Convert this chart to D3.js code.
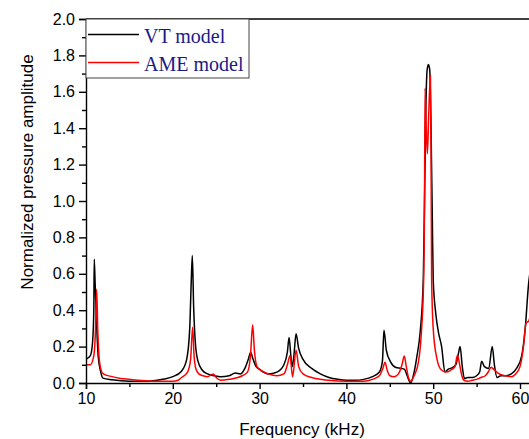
<!DOCTYPE html>
<meta charset="utf-8">
<style>
  body { margin: 0; background: #fff; }
  svg { display: block; }
</style>
<body>
<div id="chart"></div>
<script src="https://cdn.jsdelivr.net/npm/d3@7"></script>
<script>
// frequency (kHz) / normalized amplitude
var vtFreq = [10, 10.5, 10.75, 10.9, 10.95, 11.05, 11.2, 11.4, 11.7, 11.96, 13, 15, 17, 18, 19, 20, 21, 21.6, 21.95, 22.12, 22.25, 22.4, 22.6, 22.9, 23.4, 24, 24.8, 25.5, 26.5, 27.2, 27.8, 28.3, 28.7, 28.97, 29.25, 29.6, 30, 31, 32, 32.8, 33.2, 33.4, 33.6, 33.75, 33.95, 34.2, 34.5, 35, 36, 37, 38, 39, 40, 41, 42, 43, 43.8, 44.15, 44.33, 44.6, 45.1, 45.7, 46.3, 46.7, 47.0, 47.4, 47.8, 48.1, 48.5, 48.86, 49.0, 49.15, 49.3, 49.45, 49.6, 49.75, 49.9, 50.0, 50.3, 50.6, 50.97, 51.35, 51.7, 52.2, 52.6, 52.9, 53.1, 53.35, 53.6, 54, 54.5, 55, 55.35, 55.58, 55.9, 56.4, 56.8, 57.05, 57.35, 57.8, 58.3, 59, 59.6, 60.2, 60.6, 61.0, 61.3];
var vtAmp  = [0.13, 0.15, 0.22, 0.4, 0.68, 0.55, 0.35, 0.15, 0.06, 0.027, 0.018, 0.01, 0.01, 0.014, 0.022, 0.035, 0.065, 0.13, 0.3, 0.55, 0.70, 0.42, 0.22, 0.12, 0.07, 0.05, 0.04, 0.035, 0.04, 0.055, 0.05, 0.08, 0.13, 0.167, 0.13, 0.09, 0.075, 0.05, 0.06, 0.1, 0.17, 0.25, 0.15, 0.09, 0.15, 0.27, 0.19, 0.13, 0.08, 0.05, 0.03, 0.02, 0.015, 0.015, 0.02, 0.035, 0.06, 0.12, 0.29, 0.18, 0.115, 0.085, 0.08, 0.075, 0.04, 0.0, 0.06, 0.14, 0.28, 0.57, 1.0, 1.5, 1.72, 1.75, 1.72, 1.4, 0.9, 0.57, 0.38, 0.28, 0.2, 0.06, 0.075, 0.085, 0.1, 0.16, 0.2, 0.09, 0.025, 0.03, 0.03, 0.04, 0.06, 0.12, 0.09, 0.08, 0.2, 0.1, 0.03, 0.04, 0.04, 0.05, 0.08, 0.15, 0.3, 0.55, 0.65];

var ameFreq = [10, 10.5, 10.9, 11.1, 11.23, 11.35, 11.55, 11.8, 12, 13, 14, 15, 16, 17, 18, 19, 20, 20.6, 21, 21.7, 22.05, 22.29, 22.45, 22.65, 23, 23.5, 24, 24.65, 25.0, 25.5, 26.5, 27.5, 28, 28.6, 28.95, 29.2, 29.4, 29.7, 30, 31, 32, 32.8, 33.2, 33.5, 33.8, 34.2, 34.5, 35, 36, 37, 38, 40, 42, 43, 43.8, 44.2, 44.45, 44.7, 45, 45.5, 46.0, 46.4, 46.67, 46.9, 47.15, 47.4, 47.8, 48.28, 48.6, 48.9, 49.0, 49.06, 49.2, 49.33, 49.5, 49.68, 49.75, 49.82, 50.0, 50.4, 50.97, 51.5, 52, 52.5, 52.8, 53.05, 53.3, 53.55, 54, 54.5, 55, 55.5, 56, 56.4, 56.66, 57.1, 57.6, 58.3, 59, 59.5, 60.0, 60.4, 60.7, 61.0, 61.3];
var ameAmp  = [0.1, 0.1, 0.15, 0.3, 0.515, 0.3, 0.12, 0.062, 0.05, 0.035, 0.025, 0.02, 0.015, 0.012, 0.01, 0.01, 0.01, 0.015, 0.03, 0.06, 0.13, 0.306, 0.15, 0.08, 0.05, 0.04, 0.035, 0.05, 0.03, 0.015, 0.02, 0.03, 0.04, 0.06, 0.15, 0.32, 0.18, 0.09, 0.075, 0.05, 0.04, 0.05, 0.1, 0.15, 0.035, 0.18, 0.09, 0.05, 0.03, 0.02, 0.015, 0.01, 0.01, 0.02, 0.04, 0.08, 0.114, 0.07, 0.04, 0.035, 0.05, 0.1, 0.148, 0.09, 0.03, 0.01, 0.04, 0.11, 0.25, 0.57, 1.0, 1.62, 1.4, 1.26, 1.5, 1.69, 1.3, 0.57, 0.3, 0.14, 0.07, 0.06, 0.07, 0.09, 0.154, 0.1, 0.04, 0.015, 0.01, 0.015, 0.02, 0.03, 0.04, 0.065, 0.086, 0.07, 0.05, 0.04, 0.035, 0.05, 0.09, 0.2, 0.33, 0.34, 0.4];

var xTicks = [10, 20, 30, 40, 50, 60];
var yTicks = [0.0, 0.2, 0.4, 0.6, 0.8, 1.0, 1.2, 1.4, 1.6, 1.8, 2.0];
var seriesNames = ["VT model", "AME model"];

var W = 529, H = 439;
var margin = {top: 19, left: 86, bottom: 56};
var pxPerKHz = 8.68;

var x = d3.scaleLinear().domain([10, 62]).range([margin.left, margin.left + 52 * pxPerKHz]);
var y = d3.scaleLinear().domain([0, 2]).range([H - margin.bottom, margin.top]);

var svg = d3.select("#chart").append("svg")
    .attr("width", W)
    .attr("height", H);

svg.append("defs").append("clipPath").attr("id", "clip")
  .append("rect")
    .attr("x", margin.left).attr("y", margin.top)
    .attr("width", W - margin.left).attr("height", y(0) - margin.top);

var line = d3.line()
    .x(function(d) { return x(d[0]); })
    .y(function(d) { return y(d[1]); })
    .curve(d3.curveMonotoneX);

var vt = d3.zip(vtFreq, vtAmp);
var ame = d3.zip(ameFreq, ameAmp);

var plot = svg.append("g").attr("clip-path", "url(#clip)");

plot.append("path")
    .datum(vt)
    .attr("fill", "none")
    .attr("stroke", "#000")
    .attr("stroke-width", 1.5)
    .attr("d", line);

plot.append("path")
    .datum(ame)
    .attr("fill", "none")
    .attr("stroke", "#ff0000")
    .attr("stroke-width", 1.5)
    .attr("d", line);

var tickFont = "'Liberation Sans', Arial, sans-serif";

// y axis, major + minor ticks
svg.append("g")
    .attr("transform", "translate(" + margin.left + ",0)")
    .call(d3.axisLeft(y).tickValues(yTicks).tickFormat(d3.format(".1f")).tickSize(7).tickPadding(4));
svg.append("g")
    .attr("transform", "translate(" + margin.left + ",0)")
    .call(d3.axisLeft(y).tickValues(d3.range(0.1, 2, 0.2)).tickFormat("").tickSize(4))
    .select(".domain").remove();

// x axis
svg.append("g")
    .attr("transform", "translate(0," + y(0) + ")")
    .call(d3.axisBottom(x).tickValues(xTicks).tickFormat(d3.format("d")).tickSize(6).tickPadding(4));
svg.append("g")
    .attr("transform", "translate(0," + y(0) + ")")
    .call(d3.axisBottom(x).tickValues([15, 25, 35, 45, 55]).tickFormat("").tickSize(4))
    .select(".domain").remove();

svg.selectAll(".tick text")
    .style("font-family", tickFont)
    .style("font-size", "16px")
    .attr("fill", "#000");
svg.selectAll(".domain, .tick line").attr("stroke", "#000").attr("stroke-width", 1.4);

// top frame line
svg.append("line")
    .attr("x1", margin.left).attr("x2", W)
    .attr("y1", margin.top).attr("y2", margin.top)
    .attr("stroke", "#000").attr("stroke-width", 1.4);

// axis titles
svg.append("text")
    .attr("x", 302)
    .attr("y", 435)
    .attr("text-anchor", "middle")
    .style("font-family", tickFont)
    .style("font-size", "17px")
    .text("Frequency (kHz)");

svg.append("text")
    .attr("transform", "translate(33,172) rotate(-90)")
    .attr("text-anchor", "middle")
    .style("font-family", tickFont)
    .style("font-size", "17px")
    .text("Normalized pressure amplitude");

// legend
var legend = svg.append("g");
legend.append("rect")
    .attr("x", margin.left).attr("y", margin.top)
    .attr("width", 163).attr("height", 59)
    .attr("fill", "#fff")
    .attr("stroke", "#444")
    .attr("stroke-width", 1);

var legendColors = ["#000", "#ff0000"];
seriesNames.forEach(function(name, i) {
  var ly = 34.5 + i * 28;
  legend.append("line")
      .attr("x1", 88).attr("x2", 139)
      .attr("y1", ly).attr("y2", ly)
      .attr("stroke", legendColors[i])
      .attr("stroke-width", 1.5);
  legend.append("text")
      .attr("x", 144)
      .attr("y", ly + 8)
      .style("font-family", "'Liberation Serif', 'Times New Roman', serif")
      .style("font-size", "20px")
      .attr("fill", "#1a1a86")
      .text(name);
});
</script>
</body>
